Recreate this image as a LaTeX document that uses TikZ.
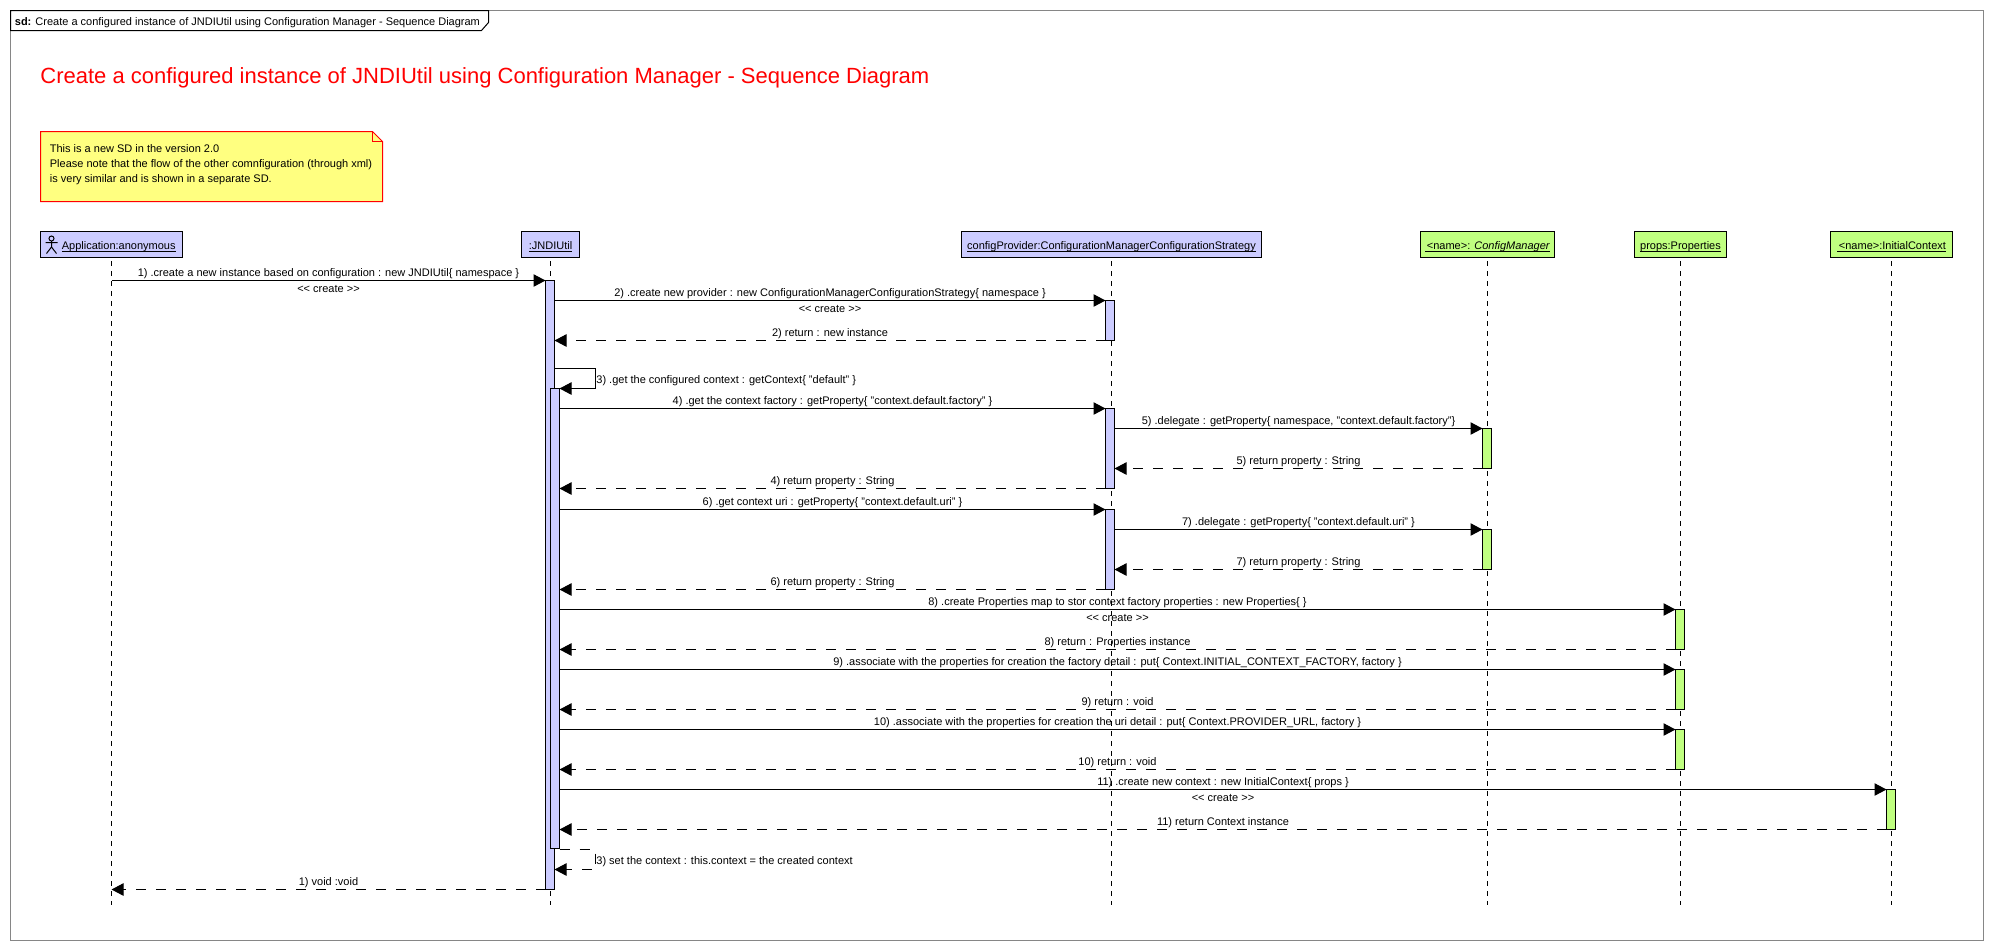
\documentclass[tikz,border=0pt]{standalone}
\usepackage{fontspec}
\setmainfont{Liberation Sans}
\usetikzlibrary{arrows.meta}
\definecolor{life-blue}{HTML}{CCCCFF}
\definecolor{life-green}{HTML}{C0FF80}
\definecolor{note-yellow}{HTML}{FFFF80}
\definecolor{frame-gray}{HTML}{868686}
\newcommand{\smalltext}{\fontsize{5.5pt}{7.5pt}\selectfont}
\newcommand{\headtext}[1]{\underline{\smash{#1}}}
\tikzstyle{frame-line}=[draw=frame-gray,line width=.55pt]
\tikzstyle{thin-line}=[draw=black,line width=.5pt]
\tikzstyle{head-node}=[draw=black,line width=.6pt,inner sep=0,outer sep=0,minimum height=13pt,text height=8.75pt,text depth=4.25pt,font=\smalltext]
\tikzstyle{head-blue}=[head-node,fill=life-blue]
\tikzstyle{head-green}=[head-node,fill=life-green]
\tikzstyle{bar-node}=[draw=black,line width=.5pt,inner sep=0,outer sep=0,minimum width=4.5pt,anchor=north]
\tikzstyle{bar-blue}=[bar-node,fill=life-blue]
\tikzstyle{bar-green}=[bar-node,fill=life-green]
\tikzstyle{text-node}=[inner sep=0,font=\smalltext]
\tikzstyle{msg-text}=[text-node,anchor=base,yshift=2.15pt]
\tikzstyle{create-text}=[text-node,anchor=base,yshift=-6.1pt]
\tikzstyle{call-line}=[draw=black,line width=.5pt]
\tikzstyle{return-line}=[draw=black,line width=.5pt,dash pattern=on 5pt off 5pt]
\tikzstyle{life-line}=[draw=black,line width=.5pt,dash pattern=on 2.5pt off 2.5pt,shorten <=1.75pt]

\begin{document}
\begin{tikzpicture}[x=.5pt,y=-.5pt]
        \useasboundingbox (0,0) rectangle (1993,950);

        % frame and title
        \draw[frame-line] (10.5,10.5) rectangle (1983.5,940.5);
        \draw[thin-line,fill=white] (10.5,10.5) -- (488.5,10.5) -- (488.5,22.5) -- (481.5,30.5) -- (10.5,30.5) -- cycle;
        \node (tab)[text-node,anchor=base west] at (14.5,25) {\textbf{sd:} Create a configured instance of JNDIUtil using Configuration Manager - Sequence Diagram};
        \node (title)[inner sep=0,anchor=base west,text=red,font=\fontsize{11pt}{13pt}\selectfont] at (40,83.3) {Create a configured instance of JNDIUtil using Configuration Manager - Sequence Diagram};

        % note
        \draw[draw=red,line width=.5pt,fill=note-yellow] (40.5,131.5) -- (372.5,131.5) -- (382.5,141.5) -- (382.5,201.5) -- (40.5,201.5) -- cycle;
        \draw[draw=red,line width=.5pt] (372.5,131.5) -- (372.5,141.5) -- (382.5,141.5);
        \node (note)[text-node,anchor=north west,align=left] at (49.5,144.5) {This is a new SD in the version 2.0\\Please note that the flow of the other comnfiguration (through xml)\\is very similar and is shown in a separate SD.};

        % lifeline heads
        \node (h-app)[head-blue,minimum width=71pt] at (111.5,244.5) {\hspace*{7.2pt}\headtext{Application:anonymous}};
        \node (h-util)[head-blue,minimum width=29pt] at (550.5,244.5) {\headtext{:JNDIUtil}};
        \node (h-conf)[head-blue,minimum width=150pt] at (1111.5,244.5) {\headtext{configProvider:ConfigurationManagerConfigurationStrategy}};
        \node (h-mgr)[head-green,minimum width=67pt] at (1487.5,244.5) {\headtext{\,<name>: \textit{ConfigManager}}};
        \node (h-props)[head-green,minimum width=46pt] at (1680.5,244.5) {\headtext{props:Properties}};
        \node (h-ctx)[head-green,minimum width=61pt] at (1891.5,244.5) {\headtext{\,<name>:InitialContext}};

        % stick figure
        \draw[thin-line] (51.5,238.5) circle (1.25pt);
        \draw[thin-line] (51.5,241) -- (51.5,247) (45.5,242.5) -- (57.5,242.5) (46.5,253.5) -- (51.5,247) -- (56.5,253.5);

        \coordinate (e-app) at (111.5,905);
        \coordinate (e-util) at (550.5,905);
        \coordinate (e-conf) at (1111.5,905);
        \coordinate (e-mgr) at (1487.5,905);
        \coordinate (e-props) at (1680.5,905);
        \coordinate (e-ctx) at (1891.5,905);

        \begin{scope}[every edge/.style=life-line]
            \path (h-app.south) edge (e-app);
            \path (h-util.south) edge (e-util);
            \path (h-conf.south) edge (e-conf);
            \path (h-mgr.south) edge (e-mgr);
            \path (h-props.south) edge (e-props);
            \path (h-ctx.south) edge (e-ctx);
        \end{scope}

        % activation bars
        \node (a1)[bar-blue,minimum height=304.5pt] at (550,280.5) {};
        \node (a3)[bar-blue,minimum height=230pt] at (555,388.5) {};
        \node (a2)[bar-blue,minimum height=20pt] at (1110,300.5) {};
        \node (a4)[bar-blue,minimum height=40pt] at (1110,408.5) {};
        \node (a6)[bar-blue,minimum height=40pt] at (1110,509.5) {};
        \node (a5)[bar-green,minimum height=20pt] at (1487,428.5) {};
        \node (a7)[bar-green,minimum height=20pt] at (1487,529.5) {};
        \node (a8)[bar-green,minimum height=20pt] at (1680,609.5) {};
        \node (a9)[bar-green,minimum height=20pt] at (1680,669.5) {};
        \node (a10)[bar-green,minimum height=20pt] at (1680,729.5) {};
        \node (a11)[bar-green,minimum height=20pt] at (1891,789.5) {};

        \coordinate (s3a) at (595.5,368.5);
        \coordinate (s3b) at (595.5,388.5);
        \coordinate (r3a) at (559.5,849.5);
        \coordinate (r3b) at (595.5,849.5);
        \coordinate (r3c) at (595.5,869.5);

        \begin{scope}[>={Triangle[length=6pt,width=6.2pt]}, every edge/.style=call-line]
            \path [->] (h-app.south |- a1.north) edge node[msg-text] (t1) {1) .create a new instance based on configuration : new JNDIUtil\{ namespace \}} node[create-text] (c1) {<{}< create >{}>} (a1.north west);
            \path [->] (a1.east |- a2.north) edge node[msg-text] (t2) {2) .create new provider : new ConfigurationManagerConfigurationStrategy\{ namespace \}} node[create-text] (c2) {<{}< create >{}>} (a2.north west);
            \path [->] (a3.east |- a4.north) edge node[msg-text] (t4) {4) .get the context factory : getProperty\{ "context.default.factory" \}} (a4.north west);
            \path [->] (a4.east |- a5.north) edge node[msg-text] (t5) {5) .delegate : getProperty\{ namespace, "context.default.factory"\}} (a5.north west);
            \path [->] (a3.east |- a6.north) edge node[msg-text] (t6) {6) .get context uri : getProperty\{ "context.default.uri" \}} (a6.north west);
            \path [->] (a6.east |- a7.north) edge node[msg-text] (t7) {7) .delegate : getProperty\{ "context.default.uri" \}} (a7.north west);
            \path [->] (a3.east |- a8.north) edge node[msg-text] (t8) {8) .create Properties map to stor context factory properties : new Properties\{ \}} node[create-text] (c8) {<{}< create >{}>} (a8.north west);
            \path [->] (a3.east |- a9.north) edge node[msg-text] (t9) {9) .associate with the properties for creation the factory detail : put\{ Context.INITIAL\_CONTEXT\_FACTORY, factory \}} (a9.north west);
            \path [->] (a3.east |- a10.north) edge node[msg-text] (t10) {10) .associate with the properties for creation the uri detail : put\{ Context.PROVIDER\_URL, factory \}} (a10.north west);
            \path [->] (a3.east |- a11.north) edge node[msg-text] (t11) {11) .create new context : new InitialContext\{ props \}} node[create-text] (c11) {<{}< create >{}>} (a11.north west);
        \end{scope}

        \begin{scope}[>={Triangle[length=6pt,width=6.2pt]}, every edge/.style=return-line]
            \path [->] (a2.south west) edge node[msg-text] (u2) {2) return : new instance} (a1.east |- a2.south);
            \path [->] (a5.south west) edge node[msg-text] (u5) {5) return property : String} (a4.east |- a5.south);
            \path [->] (a4.south west) edge node[msg-text] (u4) {4) return property : String} (a3.east |- a4.south);
            \path [->] (a7.south west) edge node[msg-text] (u7) {7) return property : String} (a6.east |- a7.south);
            \path [->] (a6.south west) edge node[msg-text] (u6) {6) return property : String} (a3.east |- a6.south);
            \path [->] (a8.south west) edge node[msg-text] (u8) {8) return : Properties instance} (a3.east |- a8.south);
            \path [->] (a9.south west) edge node[msg-text] (u9) {9) return : void} (a3.east |- a9.south);
            \path [->] (a10.south west) edge node[msg-text] (u10) {10) return : void} (a3.east |- a10.south);
            \path [->] (a11.south west) edge node[msg-text] (u11) {11) return Context instance} (a3.east |- a11.south);
            \path [->] (a1.south west) edge node[msg-text] (u1) {1) void :void} (h-app.south |- a1.south);
        \end{scope}

        % self calls
        \draw[call-line,-{Triangle[length=6pt,width=6.2pt]}] (a1.east |- s3a) -- (s3a) -- (s3b) -- (a3.north east);
        \node (t3)[text-node,anchor=base west] at (596,383.3) {3) .get the configured context : getContext\{ "default" \}};
        \draw[return-line,-{Triangle[length=6pt,width=6.2pt]}] (r3a) -- (r3b) -- (r3c) -- (a1.east |- r3c);
        \node (u3)[text-node,anchor=base west] at (596,864) {3) set the context : this.context = the created context};
    \end{tikzpicture}
\end{document}
